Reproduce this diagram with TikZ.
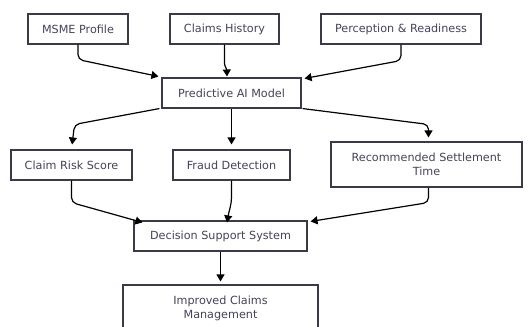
\documentclass[tikz,border=0pt]{standalone}
\usepackage{fontspec}
\setmainfont{DejaVu Sans}
\usetikzlibrary{arrows.meta,calc}
\definecolor{boxline}{HTML}{3A3A48}
\definecolor{txt}{HTML}{44445A}
\begin{document}
\begin{tikzpicture}[x=1pt,y=-1pt,
  box/.style={draw=boxline,line width=1.1pt,fill=white,rectangle,inner sep=0pt,
    font=\fontsize{11.2}{14}\selectfont,text=txt,align=center},
  arr/.style={draw=black,line width=1.2pt,-{Triangle[length=7pt,width=8pt]},rounded corners=5pt}]
\useasboundingbox (0,0) rectangle (531,327);
\fill[white] (0,0) rectangle (531,327);
\begin{scope}
\clip (0,0) rectangle (531,327);
\node[box,minimum width=100pt,minimum height=30pt] (msme) at (78,29) {MSME Profile};
\node[box,minimum width=109pt,minimum height=30pt] (claims) at (224.5,29) {Claims History};
\node[box,minimum width=160pt,minimum height=30pt] (perc) at (401,29) {Perception \& Readiness};
\node[box,minimum width=139pt,minimum height=30pt] (pred) at (231.5,93) {Predictive AI Model};
\node[box,minimum width=121pt,minimum height=30pt] (risk) at (71.5,165) {Claim Risk Score};
\node[box,minimum width=117pt,minimum height=30pt] (fraud) at (231.5,165) {Fraud Detection};
\node[box,minimum width=191pt,minimum height=45pt] (rec) at (426.5,164.5) {Recommended Settlement\\Time};
\node[box,minimum width=173pt,minimum height=30pt] (dss) at (220.5,236) {Decision Support System};
\node[box,minimum width=195pt,minimum height=46pt] (icm) at (220.5,308) {Improved Claims\\Management};

\draw[arr] (msme.south) -- ++(0,15) -- ([xshift=-3pt,yshift=1pt]pred.north west);
\draw[arr] (claims.south) -- ++(0,14) to[out=-90,in=92] ([xshift=-4.5pt,yshift=1pt]pred.north);
\draw[arr] (perc.south) -- ++(0,16) -- ([xshift=3pt,yshift=-1pt]pred.north east);

\draw[arr,shorten >=5pt] ([xshift=-2pt]pred.south west) -- ($(risk.north)+(3,-25)$) -- (risk.north);
\draw[arr,shorten >=5pt] (pred.south) -- (fraud.north);
\draw[arr,shorten >=4pt] ([xshift=1pt]pred.south east) -- ($(rec.north)+(2,-17)$) -- ([xshift=2pt]rec.north);

\draw[arr] (risk.south) -- ++(0,22) -- ([xshift=9pt,yshift=-2pt]dss.north west);
\draw[arr] (fraud.south) -- ++(0,12) to[out=-90,in=80] ([xshift=6.5pt,yshift=-2pt]dss.north);
\draw[arr] ([xshift=2pt]rec.south) -- ++(0,15) -- ([xshift=3pt,yshift=-1pt]dss.north east);
\draw[arr,shorten >=3pt] (dss.south) -- (icm.north);
\end{scope}
\end{tikzpicture}
\end{document}
